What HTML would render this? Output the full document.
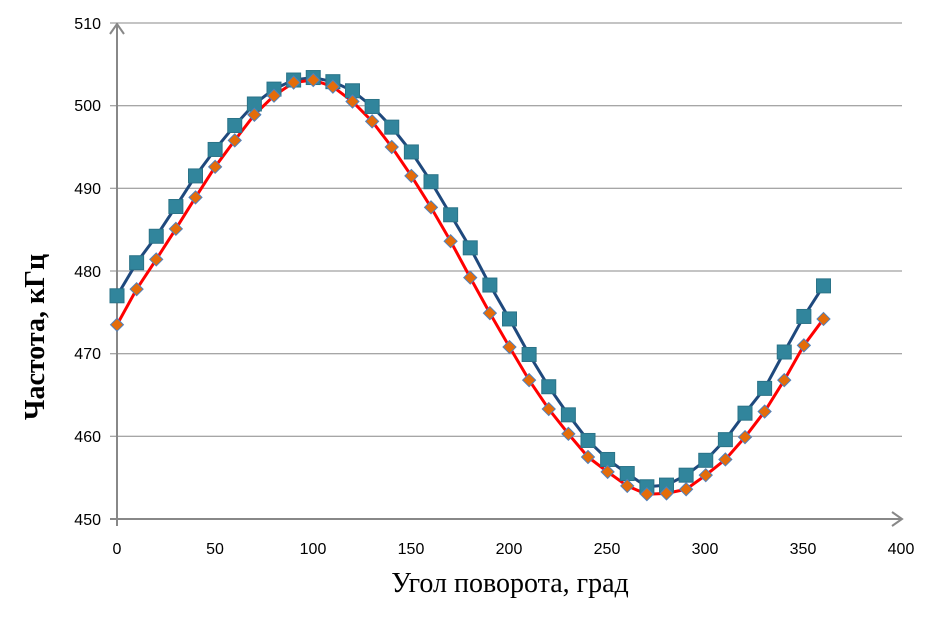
<!DOCTYPE html><html><head><meta charset="utf-8"><style>body{margin:0;background:#fff}</style></head><body>
<svg width="941" height="624" xmlns="http://www.w3.org/2000/svg" font-family="Liberation Sans, sans-serif">
<g stroke="#888" stroke-width="1">
<line x1="110" y1="23" x2="902" y2="23"/><line x1="110" y1="105.7" x2="902" y2="105.7"/><line x1="110" y1="188.3" x2="902" y2="188.3"/><line x1="110" y1="271" x2="902" y2="271"/><line x1="110" y1="353.7" x2="902" y2="353.7"/><line x1="110" y1="436.3" x2="902" y2="436.3"/>
</g>
<g stroke="#888" stroke-width="2" fill="none">
<line x1="117" y1="24" x2="117" y2="526"/><line x1="110" y1="519" x2="902" y2="519"/>
<polyline points="110,34 117,24 124,34"/><polyline points="892,512 902,519 892,526"/>
</g>
<g font-size="16" fill="#000" text-anchor="end">
<text x="101" y="29">510</text><text x="101" y="111">500</text><text x="101" y="194">490</text><text x="101" y="277">480</text><text x="101" y="359">470</text><text x="101" y="442">460</text><text x="101" y="525">450</text>
</g>
<g font-size="16" fill="#000" text-anchor="middle">
<text x="117" y="554">0</text><text x="215" y="554">50</text><text x="313" y="554">100</text><text x="411" y="554">150</text><text x="509" y="554">200</text><text x="607" y="554">250</text><text x="705" y="554">300</text><text x="803" y="554">350</text><text x="901" y="554">400</text>
</g>
<text x="510" y="592" font-family="Liberation Serif, serif" font-size="28" text-anchor="middle">Угол поворота, град</text>
<text transform="translate(44,337) rotate(-90)" font-family="Liberation Serif, serif" font-size="28" font-weight="bold" text-anchor="middle">Частота, кГц</text>
<g id="g"></g>
</svg>
<script>
var B=[477,481,484.2,487.8,491.5,494.7,497.6,500.2,502,503.1,503.4,502.9,501.8,499.9,497.4,494.4,490.8,486.8,482.8,478.3,474.2,469.9,466,462.6,459.5,457.2,455.5,453.9,454.1,455.3,457.1,459.6,462.8,465.8,470.2,474.5,478.2];
var O=[473.5,477.8,481.4,485.1,488.9,492.6,495.8,498.9,501.2,502.8,503.1,502.3,500.5,498.1,495,491.5,487.7,483.6,479.2,474.9,470.8,466.8,463.3,460.3,457.5,455.7,454,453,453.1,453.6,455.3,457.2,459.9,463,466.8,471,474.2];
function X(i){return 117+i*10*1.9625}function Y(v){return 519-(v-450)*8.267}
var s='';
function pl(a,c){s+='<polyline fill="none" stroke="'+c+'" stroke-width="3" stroke-linejoin="round" points="'+a.map(function(v,i){return X(i)+','+Y(v)}).join(' ')+'"/>';}
pl(B,'#1f497d');pl(O,'#ff0000');
B.forEach(function(v,i){s+='<rect x="'+(X(i)-7)+'" y="'+(Y(v)-7)+'" width="14" height="14" fill="#31859c" stroke="#2a7388" stroke-width="1"/>';});
O.forEach(function(v,i){var x=X(i),y=Y(v);s+='<polygon points="'+x+','+(y-6.5)+' '+(x+6.5)+','+y+' '+x+','+(y+6.5)+' '+(x-6.5)+','+y+'" fill="#e46c0a" stroke="#4f81bd" stroke-width="1"/>';});
document.getElementById('g').innerHTML=s;
</script>
</body></html>
